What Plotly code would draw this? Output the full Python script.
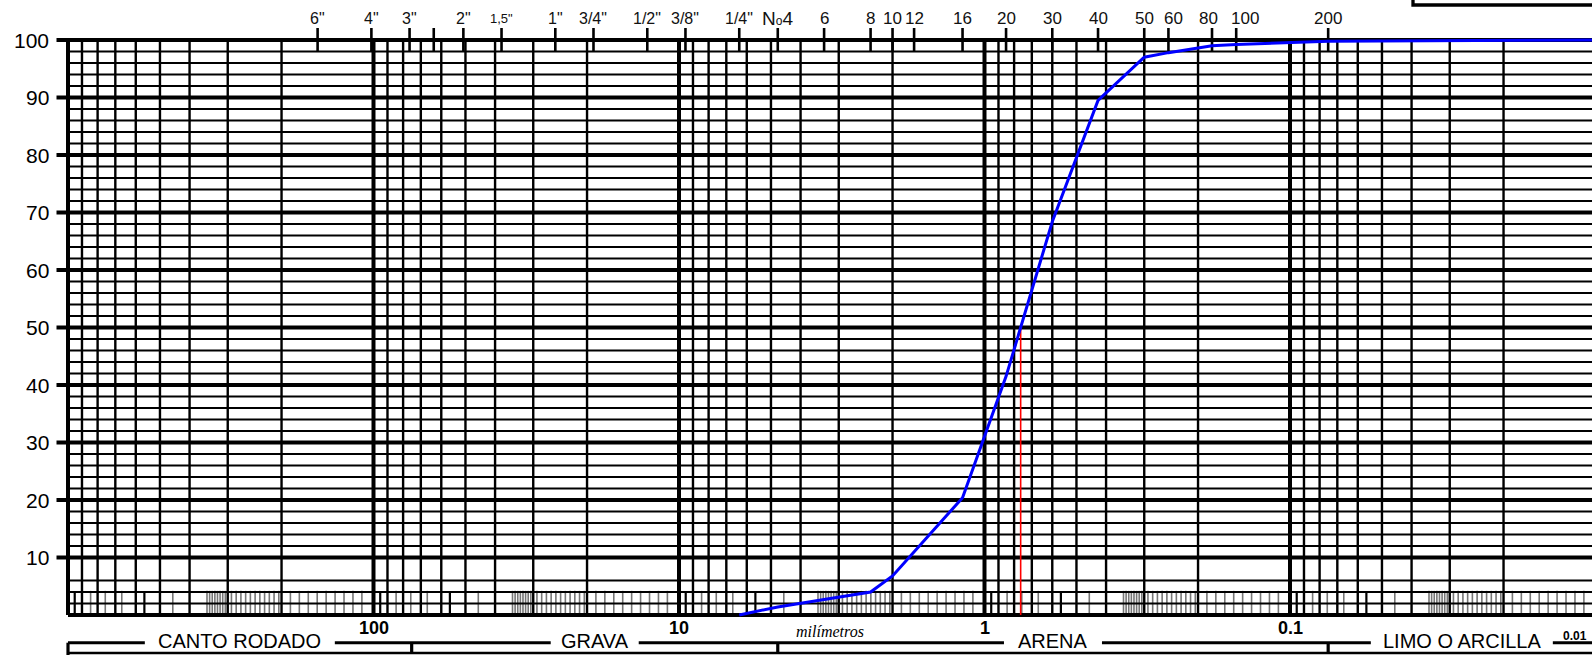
import numpy as np
import plotly.graph_objects as go

# ---- sieve analysis: opening (mm) and cumulative percentage -------------------
sieve_labels = ['1/4"', 'No4', '6', '8', '10', '16', '20', '30', '40', '50', '60', '80', '100', '200', 'Fondo']
sieve_mm = [6.35, 4.75, 3.35, 2.36, 2.00, 1.18, 0.85, 0.60, 0.425, 0.30, 0.25, 0.18, 0.15, 0.075, 0.01]
percent = [0.0, 1.4, 2.7, 4.0, 6.8, 20.4, 41.5, 68.4, 89.5, 97.0, 97.8, 99.0, 99.2, 99.8, 100.0]

# ---- sieve scale printed along the top edge ---------------------------------
scale_labels = ['6"', '4"', '3"', '', '2"', '1,5"', '1"', '3/4"', '1/2"', '3/8"', '1/4"', 'No4',
                '6', '8', '10', '12', '16', '20', '30', '40', '50', '60', '80', '100', '200']
scale_mm = [152.4, 101.6, 76.2, 63.5, 50.8, 38.1, 25.4, 19.05, 12.7, 9.525, 6.35, 4.75,
            3.35, 2.36, 2.0, 1.7, 1.18, 0.85, 0.6, 0.425, 0.3, 0.25, 0.18, 0.15, 0.075]

# ---- grain-size classes -------------------------------------------------------
class_names = ['CANTO RODADO', 'GRAVA', 'ARENA', 'LIMO O ARCILLA']
class_limits_mm = [1000, 75, 4.75, 0.075, 0.01]

decade_labels = ['100', '10', '1', '0.1']
decade_mm = [100, 10, 1, 0.1]
percent_ticks = [10, 20, 30, 40, 50, 60, 70, 80, 90, 100]

# ---- page geometry (pixels) ------------------------------------------------------
W, H = 1592, 655
LEFT_PX, DECADE_PX = 68.0, 305.5      # 1000 mm column and width of one log decade
TOP_PX, BOTTOM_PX = 40.0, 615.0       # rows of 100 % and 0 %
UNIT = (BOTTOM_PX - TOP_PX) / 100.0
X_HI = 3 + LEFT_PX / DECADE_PX        # log10(mm) at the left page edge
X_LO = X_HI - W / DECADE_PX           # log10(mm) at the right page edge
Y_LO = -(H - BOTTOM_PX) / UNIT
Y_HI = 100 + TOP_PX / UNIT


def mm_at(px):
    return 10 ** (X_HI - px / DECADE_PX)


def px_at(mm):
    return (X_HI - np.log10(mm)) * DECADE_PX


def pct_at(py):
    return 100 - (py - TOP_PX) / UNIT


def segments(pairs_x, pairs_y):
    xs, ys = [], []
    for (a, b), (c, d) in zip(pairs_x, pairs_y):
        xs += [a, b, None]
        ys += [c, d, None]
    return xs, ys


BLACK = '#000000'
GREY = '#767676'
FONT = 'Liberation Sans, Arial, sans-serif'

fig = go.Figure()


def add_lines(pairs_x, pairs_y, width, color=BLACK):
    xs, ys = segments(pairs_x, pairs_y)
    fig.add_trace(go.Scatter(x=xs, y=ys, mode='lines', hoverinfo='skip',
                             line=dict(color=color, width=width)))


right_end = mm_at(W + 10)
decades = [1000, 100, 10, 1, 0.1]

# fine marks in the lowest band of every decade
band_black_f = [0.022, 0.25]
band_grey_f = ([0.074, 0.122, 0.176, 0.343] + list(np.linspace(0.455, 0.515, 8))
               + list(np.linspace(0.535, 0.69, 11)) + list(np.linspace(0.728, 0.962, 9)))
gx = [d * 10 ** (-f) for d in decades for f in band_grey_f]
add_lines([(v, v) for v in gx], [(0.3, 4.2)] * len(gx), 1.6, GREY)
bx = [d * 10 ** (-f) for d in decades for f in band_black_f]
add_lines([(v, v) for v in bx], [(0, 4)] * len(bx), 2.2)

# vertical grid
thin_x = [d * m / 10 for d in decades for m in range(9, 1, -1)]
add_lines([(v, v) for v in thin_x], [(0, 100)] * len(thin_x), 2.4)
add_lines([(v, v) for v in decades], [(0, 100)] * len(decades), 4)

# horizontal grid
thin_y = [v for v in range(2, 100, 2) if v % 10 and v != 8]
add_lines([(1000, right_end)] * len(thin_y), [(v, v) for v in thin_y], 2.2)
tick_start = mm_at(56.5)
add_lines([(tick_start, right_end)] * len(percent_ticks), [(v, v) for v in percent_ticks], 3.8)
add_lines([(1000, right_end)], [(0, 0)], 3.8)

# sieve marks along the top edge
add_lines([(v, v) for v in scale_mm], [(pct_at(28), pct_at(51))] * len(scale_mm), 2.6)

# grain-size class bar under the chart
bar_top, bar_bot = pct_at(642.7), pct_at(653)
gap_half_px = [95, 44, 49, 91]
centers_mm = [np.sqrt(a * b) for a, b in zip(class_limits_mm[:-1], class_limits_mm[1:])]
edges = [LEFT_PX]
for c, g in zip(centers_mm, gap_half_px):
    edges += [px_at(c) - g, px_at(c) + g]
edges.append(W + 10)
bar_x = [(mm_at(edges[i]), mm_at(edges[i + 1])) for i in range(0, len(edges), 2)]
add_lines(bar_x, [(bar_top, bar_top)] * len(bar_x), 3)
add_lines([(1000, right_end)], [(bar_bot, bar_bot)], 2.5)
add_lines([(1000, 1000)], [(bar_top, pct_at(H + 5))], 3.2)
seps = class_limits_mm[1:-1]
add_lines([(v, v) for v in seps], [(bar_top, bar_bot)] * len(seps), 3.2)


# D50 from the grading curve (log-linear interpolation)
def diameter_at(p):
    for d0, p0, d1, p1 in zip(sieve_mm[:-1], percent[:-1], sieve_mm[1:], percent[1:]):
        if p0 <= p <= p1 and p1 > p0:
            t = (p - p0) / (p1 - p0)
            return 10 ** (np.log10(d0) + t * (np.log10(d1) - np.log10(d0)))
    return None


d50 = diameter_at(50)
fig.add_trace(go.Scatter(x=[d50, d50], y=[0, 50], mode='lines', hoverinfo='skip',
                         line=dict(color='#ff0000', width=1.6)))

# grading curve
fig.add_trace(go.Scatter(x=sieve_mm, y=percent, mode='lines', text=sieve_labels,
                         line=dict(color='#0000ff', width=3)))

annotations = []
# percentage labels
for v in percent_ticks:
    annotations.append(dict(x=np.log10(mm_at(51)), y=v, xref='x', yref='y', text=str(v),
                            showarrow=False, xanchor='right', yanchor='middle',
                            font=dict(family=FONT, size=21, color=BLACK)))

# sieve names on top (a few are nudged sideways so neighbours do not touch)
label_nudge_px = {'60': 5, '80': -4, '100': 9}
for lab, mm in zip(scale_labels, scale_mm):
    if not lab:
        continue
    size = 16
    txt = lab
    if lab == '1,5"':
        size = 13
    elif lab == 'No4':
        size = 19
        txt = 'N<span style="font-size:12px">o</span>4'
    elif not lab.endswith('"'):
        size = 17
    annotations.append(dict(x=np.log10(mm), y=pct_at(18), xref='x', yref='y', text=txt,
                            showarrow=False, xanchor='center', yanchor='middle',
                            xshift=label_nudge_px.get(lab, 0),
                            font=dict(family=FONT, size=size, color='#111111')))

# decade values under the chart
for lab, mm in zip(decade_labels, decade_mm):
    annotations.append(dict(x=np.log10(mm), y=pct_at(628), xref='x', yref='y',
                            text='<b>%s</b>' % lab, showarrow=False, xanchor='center',
                            yanchor='middle', font=dict(family=FONT, size=18, color=BLACK)))
annotations.append(dict(x=np.log10(mm_at(1589)), y=pct_at(636), xref='x', yref='y',
                        text='<b>0.01</b>', showarrow=False, xanchor='right', yanchor='middle',
                        font=dict(family=FONT, size=12, color=BLACK)))
annotations.append(dict(x=np.log10(mm_at(830)), y=pct_at(631), xref='x', yref='y',
                        text='<i>milímetros</i>', showarrow=False, xanchor='center',
                        yanchor='middle',
                        font=dict(family='Liberation Serif, Times New Roman, serif', size=16,
                                  color=BLACK)))
for name, c in zip(class_names, centers_mm):
    annotations.append(dict(x=np.log10(c), y=pct_at(641), xref='x', yref='y', text=name,
                            showarrow=False, xanchor='center', yanchor='middle',
                            font=dict(family=FONT, size=20, color=BLACK)))

# corner of the title box at the top right
shapes = [dict(type='rect', xref='paper', yref='paper', x0=1413 / W, x1=1.2,
               y0=1 - 5 / H, y1=1.3, line=dict(color=BLACK, width=3.3))]

fig.update_layout(
    width=W, height=H, autosize=False,
    margin=dict(l=0, r=0, t=0, b=0, pad=0),
    paper_bgcolor='white', plot_bgcolor='white',
    showlegend=False,
    xaxis=dict(type='log', range=[X_HI, X_LO], visible=False, fixedrange=True),
    yaxis=dict(range=[Y_LO, Y_HI], visible=False, fixedrange=True),
    annotations=annotations, shapes=shapes,
)

fig.write_html('out.html')
